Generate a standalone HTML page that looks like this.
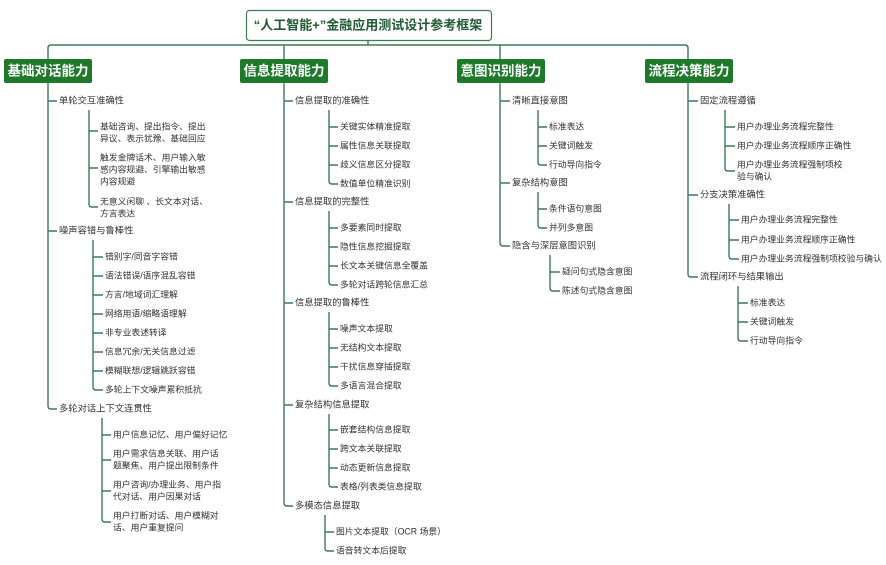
<!DOCTYPE html>
<html><head><meta charset="utf-8"><style>
body{margin:0;background:#fff}
svg{display:block}
text{font-family:"Liberation Sans","Noto Sans CJK SC",sans-serif;fill:#333;font-size:8.8px;dominant-baseline:middle}
.l1{font-size:9.3px}
.cat{fill:#fff;font-size:13.5px;font-weight:bold;text-anchor:middle}
path{fill:none;stroke:#3d7a55;stroke-width:1.4}
</style></head><body>
<svg width="886" height="565" viewBox="0 0 886 565">
<rect x="246.5" y="10.5" width="245" height="30" rx="3" fill="#fff" stroke="#3d7a55" stroke-width="1.2"/>
<text x="368" y="26" style="font-size:13px;font-weight:bold;fill:#1f5a33;text-anchor:middle">“人工智能+”金融应用测试设计参考框架</text>
<path d="M368 40V45M48 59V48Q48 45 51 45H685Q688 45 688 48V59M284 45V59M500 45V59"/>
<rect x="4" y="59" width="88" height="24" rx="2" fill="#1e7a2a"/>
<rect x="240" y="59" width="88" height="24" rx="2" fill="#1e7a2a"/>
<rect x="457" y="59" width="88" height="24" rx="2" fill="#1e7a2a"/>
<rect x="645" y="59" width="88" height="24" rx="2" fill="#1e7a2a"/>
<text class="cat" x="48" y="72">基础对话能力</text>
<text class="cat" x="284" y="72">信息提取能力</text>
<text class="cat" x="501" y="72">意图识别能力</text>
<text class="cat" x="689" y="72">流程决策能力</text>

<!-- col1 -->
<path d="M48 83V406Q48 409 51 409H57M48 101H57M48 231H57"/>
<text class="l1" x="59" y="101">单轮交互准确性</text>
<text class="l1" x="59" y="231">噪声容错与鲁棒性</text>
<text class="l1" x="59" y="409">多轮对话上下文连贯性</text>
<path d="M89 110V204Q89 207 92 207H98M89 131H98M89 168H98"/>
<text x="100" y="127">基础咨询、提出指令、提出</text><text x="100" y="139">异议、表示犹豫、基础回应</text>
<text x="100" y="158">触发金牌话术、用户输入敏</text><text x="100" y="170">感内容规避、引擎输出敏感</text><text x="100" y="182">内容规避</text>
<text x="100" y="202">无意义闲聊 、长文本对话、</text><text x="100" y="214">方言表达</text>
<path d="M93 240V387Q93 390 96 390H103M93 257H103M93 276H103M93 295H103M93 314H103M93 333H103M93 352H103M93 371H103"/>
<text x="105" y="257">错别字/同音字容错</text>
<text x="105" y="276">语法错误/语序混乱容错</text>
<text x="105" y="295">方言/地域词汇理解</text>
<text x="105" y="314">网络用语/缩略语理解</text>
<text x="105" y="333">非专业表述转译</text>
<text x="105" y="352">信息冗余/无关信息过滤</text>
<text x="105" y="371">模糊联想/逻辑跳跃容错</text>
<text x="105" y="390">多轮上下文噪声累积抵抗</text>
<path d="M102 418V519Q102 522 105 522H111M102 435H111M102 460H111M102 491H111"/>
<text x="113" y="435">用户信息记忆、用户偏好记忆</text>
<text x="113" y="454">用户需求信息关联、用户话</text><text x="113" y="466">题聚焦、用户提出限制条件</text>
<text x="113" y="485">用户咨询/办理业务、用户指</text><text x="113" y="497">代对话、用户因果对话</text>
<text x="113" y="516">用户打断对话、用户模糊对</text><text x="113" y="528">话、用户重复提问</text>

<!-- col2 -->
<path d="M284 83V503Q284 506 287 506H293M284 101H293M284 202H293M284 303H293M284 405H293"/>
<text class="l1" x="295" y="101">信息提取的准确性</text>
<text class="l1" x="295" y="202">信息提取的完整性</text>
<text class="l1" x="295" y="303">信息提取的鲁棒性</text>
<text class="l1" x="295" y="405">复杂结构信息提取</text>
<text class="l1" x="295" y="506">多模态信息提取</text>
<path d="M329 110V181Q329 184 332 184H338M329 127H338M329 146H338M329 165H338"/>
<text x="340" y="127">关键实体精准提取</text><text x="340" y="146">属性信息关联提取</text><text x="340" y="165">歧义信息区分提取</text><text x="340" y="184">数值单位精准识别</text>
<path d="M329 211V282Q329 285 332 285H338M329 228H338M329 247H338M329 266H338"/>
<text x="340" y="228">多要素同时提取</text><text x="340" y="247">隐性信息挖掘提取</text><text x="340" y="266">长文本关键信息全覆盖</text><text x="340" y="285">多轮对话跨轮信息汇总</text>
<path d="M329 312V383Q329 386 332 386H338M329 329H338M329 348H338M329 367H338"/>
<text x="340" y="329">噪声文本提取</text><text x="340" y="348">无结构文本提取</text><text x="340" y="367">干扰信息穿插提取</text><text x="340" y="386">多语言混合提取</text>
<path d="M329 414V484Q329 487 332 487H338M329 430H338M329 449H338M329 468H338"/>
<text x="340" y="430">嵌套结构信息提取</text><text x="340" y="449">跨文本关联提取</text><text x="340" y="468">动态更新信息提取</text><text x="340" y="487">表格/列表类信息提取</text>
<path d="M325 515V548Q325 551 328 551H334M325 532H334"/>
<text x="336" y="532">图片文本提取（OCR 场景）</text><text x="336" y="551">语音转文本后提取</text>

<!-- col3 -->
<path d="M500 83V243Q500 246 503 246H510M500 101H510M500 183H510"/>
<text class="l1" x="512" y="101">清晰直接意图</text>
<text class="l1" x="512" y="183">复杂结构意图</text>
<text class="l1" x="512" y="246">隐含与深层意图识别</text>
<path d="M538 110V162Q538 165 541 165H547M538 127H547M538 146H547"/>
<text x="549" y="127">标准表达</text><text x="549" y="146">关键词触发</text><text x="549" y="165">行动导向指令</text>
<path d="M538 192V225Q538 228 541 228H547M538 209H547"/>
<text x="549" y="209">条件语句意图</text><text x="549" y="228">并列多意图</text>
<path d="M550 255V288Q550 291 553 291H560M550 272H560"/>
<text x="562" y="272">疑问句式隐含意图</text><text x="562" y="291">陈述句式隐含意图</text>

<!-- col4 -->
<path d="M688 83V274Q688 277 691 277H698M688 101H698M688 195H698"/>
<text class="l1" x="700" y="101">固定流程遵循</text>
<text class="l1" x="700" y="195">分支决策准确性</text>
<text class="l1" x="700" y="277">流程闭环与结果输出</text>
<path d="M725 110V168Q725 171 728 171H735M725 127H735M725 146H735"/>
<text x="737" y="127">用户办理业务流程完整性</text><text x="737" y="146">用户办理业务流程顺序正确性</text>
<text x="737" y="165">用户办理业务流程强制项校</text><text x="737" y="177">验与确认</text>
<path d="M729 204V256Q729 259 732 259H739M729 220H739M729 240H739"/>
<text x="741" y="220">用户办理业务流程完整性</text><text x="741" y="240">用户办理业务流程顺序正确性</text><text x="741" y="259">用户办理业务流程强制项校验与确认</text>
<path d="M738 286V338Q738 341 741 341H748M738 303H748M738 322H748"/>
<text x="750" y="303">标准表达</text><text x="750" y="322">关键词触发</text><text x="750" y="341">行动导向指令</text>
</svg>
</body></html>
